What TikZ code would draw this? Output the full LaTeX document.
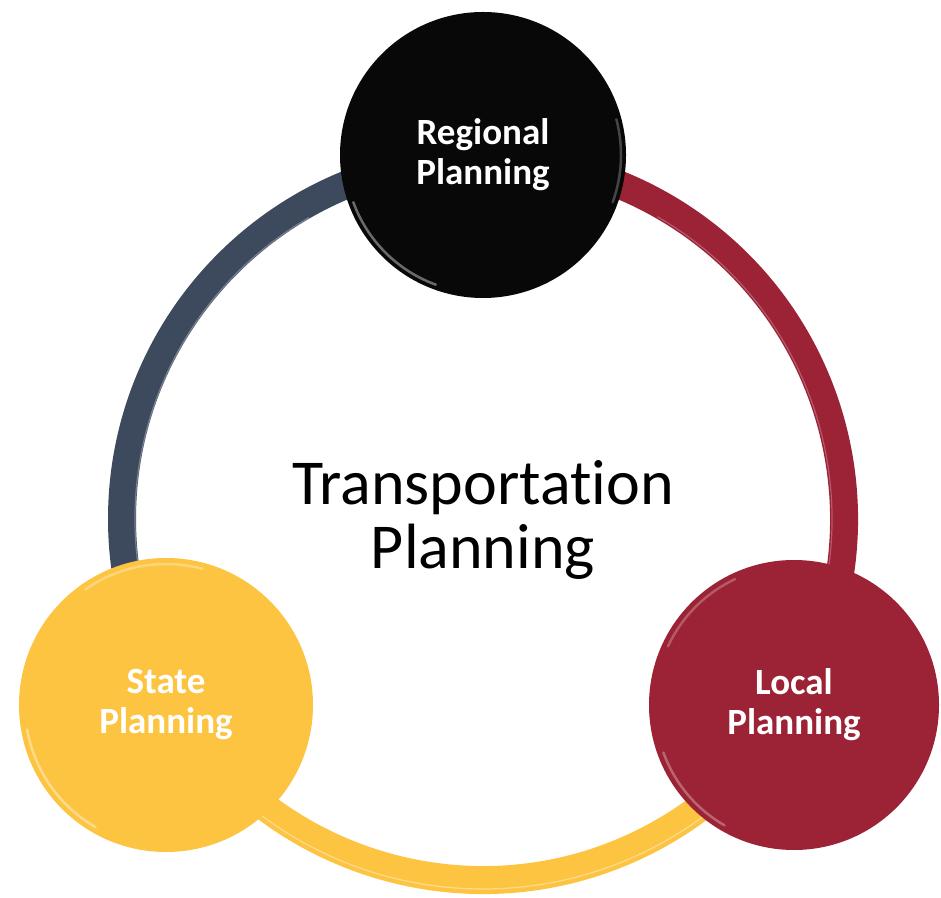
\documentclass[tikz,border=0pt]{standalone}
\usepackage{fontspec}
\setmainfont{Carlito}[Ligatures=NoCommon]
\definecolor{slate}{HTML}{3D4A5E}
\definecolor{crimson}{HTML}{9C2236}
\definecolor{gold}{HTML}{FDC442}
\definecolor{ink}{HTML}{080808}
\begin{document}
\begin{tikzpicture}[x=1pt,y=1pt,
  ringarc/.style={line width=28pt},
  gleam/.style={line width=2.5pt, line cap=round, opacity=.4},
  hub/.style={circle, inner sep=0pt, text=white, font=\fontsize{37}{40}\selectfont\bfseries, align=center},
  titletext/.style={font=\fontsize{64}{64}\selectfont, align=center, text=black}]
\useasboundingbox (0,0) rectangle (941,897);
\coordinate (c) at (483,378);
% ring arcs
\draw[ringarc, slate]   (c) ++(90:361)  arc[start angle=90,  end angle=210, radius=361];
\draw[ringarc, gold]    (c) ++(210:361) arc[start angle=210, end angle=330, radius=361];
\draw[ringarc, crimson] (c) ++(-30:361) arc[start angle=-30, end angle=90,  radius=361];
% subtle highlights on ring
\draw[line width=1.2pt, white, opacity=.3] (c) ++(120:348) arc[start angle=120, end angle=200, radius=348];
\draw[line width=1.2pt, white, opacity=.4] (c) ++(225:370) arc[start angle=225, end angle=315, radius=370];
\draw[line width=1.2pt, white, opacity=.25] (c) ++(60:349)  arc[start angle=60,  end angle=-20, radius=349];
% hubs
\node[hub, fill=ink, minimum size=286pt]     (reg)   at (483,742) {Regional\\Planning};
\node[hub, fill=crimson, minimum size=290pt] (loc)   at (794,192) {Local\\Planning};
\node[hub, fill=gold, minimum size=294pt]    (state) at (166,192) {State\\Planning};
% glossy rims
\draw[gleam, white] (reg.center) ++(200:138) arc[start angle=200, end angle=250, radius=138];
\draw[gleam, white, opacity=.25] (reg.center) ++(-20:138) arc[start angle=-20, end angle=15, radius=138];
\draw[gleam, white, opacity=.25] (loc.center) ++(115:139) arc[start angle=115, end angle=155, radius=139];
\draw[gleam, white, opacity=.3] (loc.center) ++(200:139) arc[start angle=200, end angle=240, radius=139];
\draw[gleam, white, opacity=.3] (state.center) ++(75:141) arc[start angle=75, end angle=125, radius=141];
\draw[gleam, white, opacity=.4] (state.center) ++(190:141) arc[start angle=190, end angle=240, radius=141];
% title
\node[titletext] (title) at (483,377) {Transportation\\Planning};
\end{tikzpicture}
\end{document}
